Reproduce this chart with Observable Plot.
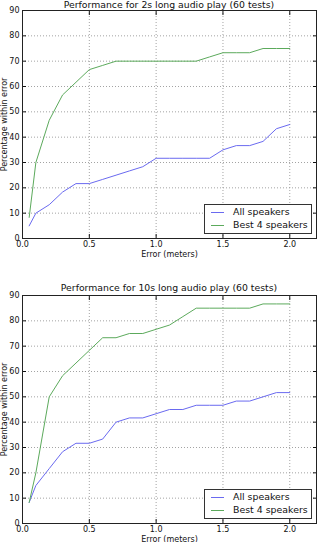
<!DOCTYPE html>
<html><head><meta charset="utf-8">
<script src="https://cdn.jsdelivr.net/npm/d3@7"></script>
<script src="https://cdn.jsdelivr.net/npm/@observablehq/plot@0.6"></script>
<style>
body{margin:0;background:#fff;font-family:"DejaVu Sans",sans-serif;}
#wrap{position:relative;width:318px;height:542px;overflow:hidden;background:#fff;}
.panel{position:absolute;left:0;}
.title{position:absolute;left:22px;width:294px;text-align:center;font-size:9.3px;color:#111;line-height:1;white-space:nowrap;}
.legend{position:absolute;left:204px;width:106px;height:28px;border:1px solid #333;background:#fff;font-size:9.4px;color:#111;}
.legend .row{position:absolute;left:0;height:10px;line-height:10px;white-space:nowrap;}
.legend .sw{position:absolute;left:6px;top:5px;width:13px;height:0;border-top:1px solid;}
.legend .lb{position:absolute;left:28px;top:0;}
</style>
</head><body><div id="wrap"></div>
<script>
const errors = [0.05,0.1,0.2,0.3,0.4,0.5,0.6,0.7,0.8,0.9,1.0,1.1,1.2,1.3,1.4,1.5,1.6,1.7,1.8,1.9,2.0];
const all2s  = [5,10,13.33,18.33,21.67,21.67,23.33,25,26.67,28.33,31.67,31.67,31.67,31.67,31.67,35,36.67,36.67,38.33,43.33,45];
const best2s = [8.33,30,46.67,56.67,61.67,66.67,68.33,70,70,70,70,70,70,70,71.67,73.33,73.33,73.33,75,75,75];
const all10s  = [8.33,15,21.67,28.33,31.67,31.67,33.33,40,41.67,41.67,43.33,45,45,46.67,46.67,46.67,48.33,48.33,50,51.67,51.67];
const best10s = [8.33,20,50,58.33,63.33,68.33,73.33,73.33,75,75,76.67,78.33,81.67,85,85,85,85,85,86.67,86.67,86.67];
const seriesNames = ["All speakers","Best 4 speakers"];
const seriesColors = ["#6a6af0","#5caa5c"];
const titles = ["Performance for 2s long audio play (60 tests)","Performance for 10s long audio play (60 tests)"];
const xTicks = [0,0.5,1.0,1.5,2.0];
const yTicks = [0,10,20,30,40,50,60,70,80,90];
const xLabel = "Error (meters)";
const yLabel = "Percentage within error";

const wrap = document.getElementById("wrap");

function panel(all, best, top, height, mt, mb, title, titleTop, legendTop) {
  const rows = [];
  errors.forEach((e,i)=>{ rows.push({x:e,y:all[i],s:seriesNames[0]}); });
  errors.forEach((e,i)=>{ rows.push({x:e,y:best[i],s:seriesNames[1]}); });
  const svg = Plot.plot({
    width: 318, height, marginLeft: 22, marginRight: 2, marginTop: mt, marginBottom: mb,
    style: {fontFamily: "DejaVu Sans, sans-serif", fontSize: "8px", color: "#111", background: "transparent"},
    x: {domain: [0, 2.2]},
    y: {domain: [0, 90]},
    color: {domain: seriesNames, range: seriesColors},
    marks: [
      Plot.gridX(xTicks, {stroke: "#999", strokeOpacity: 0.9, strokeDasharray: "1,2"}),
      Plot.gridY(yTicks, {stroke: "#999", strokeOpacity: 0.9, strokeDasharray: "1,2"}),
      Plot.lineY(rows, {x: "x", y: "y", z: "s", stroke: "s", strokeWidth: 1}),
      Plot.axisX({ticks: xTicks, tickFormat: d3.format(".1f"), tickSize: 0, tickPadding: 3, label: xLabel, labelArrow: false, labelAnchor: "center", labelOffset: 18}),
      Plot.axisX({ticks: xTicks, anchor: "bottom", tickSize: -4, tickFormat: () => "", label: null}),
      Plot.axisX({ticks: xTicks, anchor: "top", tickSize: -4, tickFormat: () => "", label: null}),
      Plot.axisY({ticks: yTicks, tickSize: 0, tickPadding: 3, label: yLabel, labelArrow: false, labelAnchor: "center", labelOffset: 21}),
      Plot.axisY({ticks: yTicks, anchor: "left", tickSize: -4, tickFormat: () => "", label: null}),
      Plot.axisY({ticks: yTicks, anchor: "right", tickSize: -4, tickFormat: () => "", label: null}),
      Plot.frame({stroke: "#222"})
    ]
  });
  svg.classList.add("panel");
  svg.style.top = top + "px";
  wrap.appendChild(svg);
  const t = document.createElement("div");
  t.className = "title"; t.textContent = title; t.style.top = titleTop + "px";
  wrap.appendChild(t);
  const lg = document.createElement("div");
  lg.className = "legend"; lg.style.top = legendTop + "px";
  seriesNames.forEach((n,i)=>{
    const r = document.createElement("div");
    r.className = "row"; r.style.top = (2 + i*13) + "px";
    const sw = document.createElement("div"); sw.className = "sw"; sw.style.borderTopColor = seriesColors[i];
    const lb = document.createElement("div"); lb.className = "lb"; lb.textContent = n;
    r.appendChild(sw); r.appendChild(lb); lg.appendChild(r);
  });
  wrap.appendChild(lg);
}

panel(all2s, best2s, 0, 270, 10, 32, titles[0], 0, 204);
panel(all10s, best10s, 270, 272, 25, 19, titles[1], 283, 489);
</script></body></html>
